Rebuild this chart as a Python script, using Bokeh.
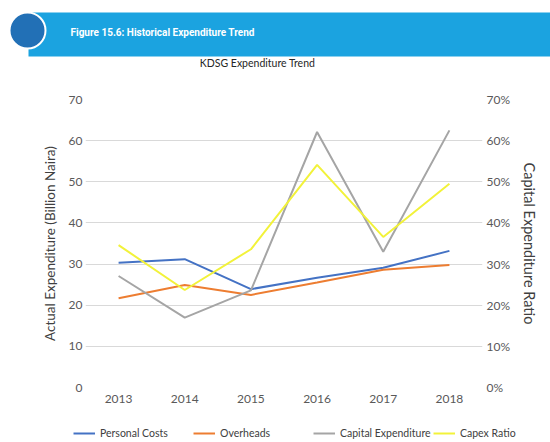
from bokeh.plotting import figure
from bokeh.layouts import column
from bokeh.models import (ColumnDataSource, FactorRange, Range1d, LinearAxis,
                          SingleIntervalTicker, PrintfTickFormatter, Legend,
                          LegendItem)
from bokeh.core.properties import value
from bokeh.embed import file_html
from bokeh.resources import INLINE

years = ["2013", "2014", "2015", "2016", "2017", "2018"]
personal_costs = [30.3, 31.2, 23.9, 26.7, 29.1, 33.2]
overheads = [21.7, 24.9, 22.5, 25.5, 28.6, 29.8]
capital_expenditure = [27.1, 17.0, 23.6, 62.1, 33.0, 62.5]
capex_ratio = [34.6, 23.7, 33.6, 54.1, 36.6, 49.5]  # percent

banner_text = "Figure 15.6: Historical  Expenditure  Trend"
chart_title = "KDSG Expenditure Trend"
left_label = "Actual Expenditure (Billion Naira)"
right_label = "Capital Expenditure Ratio"
legend_labels = ["Personal Costs", "Overheads", "Capital Expenditure", "Capex Ratio"]
colors = ["#4472C4", "#ED7D31", "#A5A5A5", "#F2F23A"]

W = 550
HH = 70          # header height
LH = 22          # legend strip height
font = "Lato"
tick_color = "#595959"

# ---------------- header -----------------
hdr = figure(width=W, height=HH, x_range=Range1d(0, W), y_range=Range1d(HH, 0),
             output_backend="svg", toolbar_location=None, min_border=0,
             outline_line_color=None, x_axis_location=None, y_axis_location=None)
hdr.frame_align = False
hdr.grid.visible = False
hdr.quad(left=[28], right=[W], top=[12], bottom=[56], fill_color="#1BA3E0",
         line_color=None)
hdr.scatter(x=[27], y=[30], size=36, marker="circle", fill_color="#2270B6",
            line_color="white", line_width=2)
hdr.text(x=[70], y=[32], text=[banner_text],
         text_font=value("Roboto"), text_font_style="bold",
         text_font_size="10px", text_color="white", text_baseline="middle",
         text_align="left")
hdr.text(x=[257], y=[62], text=[chart_title], text_font=value(font),
         text_font_size="10.5px", text_color="#262626", text_baseline="middle",
         text_align="center")

# ---------------- main chart -----------------
src = ColumnDataSource(dict(year=years, pc=personal_costs, oh=overheads,
                            ce=capital_expenditure, cr=capex_ratio))

MH = 442 - HH - LH
FL, FT, FW, FH = 85, 29, 397, 288

p = figure(x_range=FactorRange(*years, range_padding=0), y_range=Range1d(0, 70),
           frame_width=FW, frame_height=FH,
           min_border_left=FL, min_border_top=FT,
           min_border_right=W - FL - FW, min_border_bottom=MH - FT - FH,
           output_backend="svg", toolbar_location=None, outline_line_color=None)
p.frame_align = False
p.extra_y_ranges = {"ratio": Range1d(0, 70)}

p.xgrid.grid_line_color = None
p.ygrid.grid_line_color = "#D9D9D9"
p.ygrid.ticker = SingleIntervalTicker(interval=10)

rax = LinearAxis(y_range_name="ratio", ticker=SingleIntervalTicker(interval=10),
                 formatter=PrintfTickFormatter(format="%d%%"))
p.add_layout(rax, "right")

for ax in (p.xaxis[0], p.yaxis[0], rax):
    ax.axis_line_color = None
    ax.major_tick_line_color = None
    ax.minor_tick_line_color = None
    ax.major_tick_out = 0
    ax.major_tick_in = 0
    ax.minor_tick_out = 0
    ax.minor_tick_in = 0
    ax.major_label_text_font = font
    ax.major_label_text_font_size = "12px"
    ax.major_label_text_color = tick_color

p.yaxis[0].ticker = SingleIntervalTicker(interval=10)
p.yaxis[0].major_label_standoff = 3
p.yaxis[0].axis_label = left_label
p.yaxis[0].axis_label_text_font = font
p.yaxis[0].axis_label_text_font_size = "13.5px"
p.yaxis[0].axis_label_text_font_style = "normal"
p.yaxis[0].axis_label_text_color = "#404040"
p.yaxis[0].axis_label_standoff = 8
p.xaxis[0].major_label_standoff = 7

rax.major_label_standoff = 4
rax.axis_label = right_label
rax.axis_label_text_font = font
rax.axis_label_text_font_size = "14.5px"
rax.axis_label_text_font_style = "normal"
rax.axis_label_text_color = "#404040"
rax.axis_label_standoff = 8

cols = ["pc", "oh", "ce", "cr"]
for c, col in zip(cols, colors):
    if c == "cr":
        p.line("year", c, source=src, line_color=col, line_width=2,
               y_range_name="ratio")
    else:
        p.line("year", c, source=src, line_color=col, line_width=2)

# ---------------- legend strip -----------------
# same series drawn on a range far from their values, so only the legend shows
lg = figure(width=W, height=LH, x_range=FactorRange(*years), y_range=Range1d(1000, 1001),
            output_backend="svg", toolbar_location=None, min_border=0,
            outline_line_color=None, x_axis_location=None, y_axis_location=None)
lg.frame_align = False
lg.grid.visible = False
leg_renderers = [lg.line("year", c, source=src, line_color=col, line_width=2)
                 for c, col in zip(cols, colors)]

leg = Legend(items=[LegendItem(label=l, renderers=[r])
                    for l, r in zip(legend_labels, leg_renderers)],
             location=(73, 3), orientation="horizontal",
             padding=0, margin=0, spacing=0, border_line_color=None,
             background_fill_alpha=0, glyph_width=22, glyph_height=12,
             label_standoff=5, label_text_font=font, label_width=93,
             label_text_font_size="10.5px", label_text_color="#404040",
             label_height=12)
lg.add_layout(leg)

layout = column(hdr, p, lg, spacing=0)
open("out.html", "w").write(file_html(layout, INLINE))
